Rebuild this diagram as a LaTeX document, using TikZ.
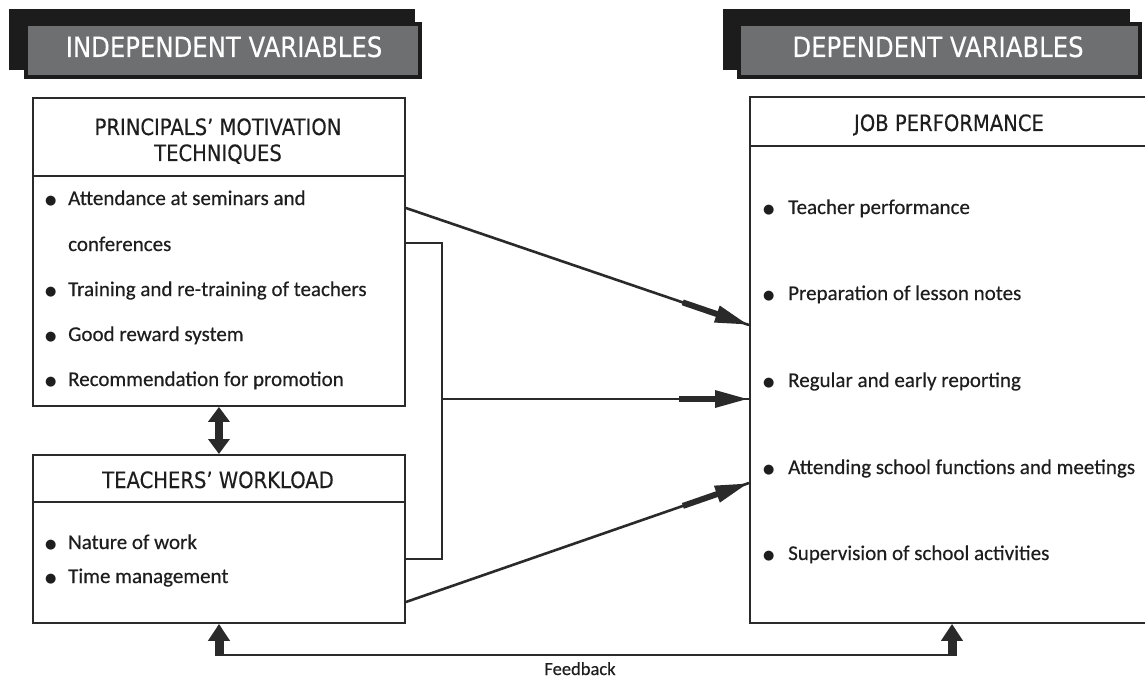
\documentclass[tikz,border=0pt]{standalone}
\usepackage{fontspec}
\setmainfont{Carlito}[FakeBold=0.35]
\newfontfamily\hdr{DejaVu Sans}[FakeStretch=0.87,FakeBold=0.25]
\newfontfamily\bulfont{DejaVu Sans}
\usetikzlibrary{arrows.meta,calc}
\definecolor{lc}{HTML}{2A2A2A}
\definecolor{tc}{HTML}{1E1E1E}
\definecolor{bgray}{HTML}{6E6F71}
\definecolor{bshadow}{HTML}{1C1C1C}
\newcommand\fatarrow[2]{%
  \draw[conn] (#1) -- (#2);
  \draw[fatpart] ($(#2)!70pt!(#1)$) -- (#2);}
\newcommand\bul[1]{\makebox[#1][l]{\hspace{-1pt}\raisebox{1pt}{\bulfont\fontsize{13}{13}\selectfont ●}}}
\begin{document}
\begin{tikzpicture}[x=1pt,y=-1pt,
  box/.style={draw=lc, line width=1.9pt, fill=white, inner sep=0pt, anchor=north west},
  divider/.style={draw=lc, line width=1.5pt},
  hdrtext/.style={font=\hdr\fontsize{22.5}{26}\selectfont, text=tc, anchor=base, inner sep=0pt},
  bantext/.style={font=\hdr\fontsize{28}{32}\selectfont, text=white, anchor=base, inner sep=0pt},
  item/.style={font=\fontsize{21}{24}\selectfont, text=tc, anchor=base west, inner sep=0pt},
  conn/.style={draw=lc, line width=2.6pt},
  fatpart/.style={draw=lc, line width=6pt, -{Triangle[length=34pt,width=16pt]}},
  dblarrow/.style={draw=lc, line width=8pt, {Triangle[length=15pt,width=21pt]}-{Triangle[length=15pt,width=21pt]}},
  uparrow/.style={draw=lc, line width=9pt, -{Triangle[length=17pt,width=21pt]}},
  shadowbox/.style={fill=bshadow, draw=none, inner sep=0pt, anchor=north west},
  banner/.style={fill=bgray, draw=bshadow, line width=4pt, inner sep=0pt, anchor=north west}
]
\useasboundingbox (0,0) rectangle (1145,679);

% banners
\node[shadowbox, minimum width=406pt, minimum height=61pt] (ls) at (9,9) {};
\node[banner, minimum width=394pt, minimum height=53pt] (lb) at (24,22) {};
\node[bantext] (lbt) at (224,57) {INDEPENDENT VARIABLES};
\node[shadowbox, minimum width=407pt, minimum height=61pt] (rs) at (723,9) {};
\node[banner, minimum width=401pt, minimum height=53pt] (rb) at (737,22) {};
\node[bantext] (rbt) at (938,57) {DEPENDENT VARIABLES};

% box 1
\node[box, minimum width=372pt, minimum height=308pt] (pmt) at (32,97) {};
\coordinate (d1) at (0,176);
\draw[divider] (pmt.west |- d1) -- (pmt.east |- d1);
\node[hdrtext] (pmth1) at (218,135) {PRINCIPALS’ MOTIVATION};
\node[hdrtext] (pmth2) at (218,161) {TECHNIQUES};
\node[item] (i11) at (46,205) {\bul{22pt}Attendance at seminars and};
\node[item] (i12) at (68,251) {conferences};
\node[item] (i13) at (46,296) {\bul{22pt}Training and re-training of teachers};
\node[item] (i14) at (46,341) {\bul{22pt}Good reward system};
\node[item] (i15) at (46,386) {\bul{22pt}Recommendation for promotion};

% box 2
\node[box, minimum width=372pt, minimum height=168pt] (wl) at (32,454) {};
\coordinate (d2) at (0,502);
\draw[divider] (wl.west |- d2) -- (wl.east |- d2);
\node[hdrtext] (wlh) at (218,488) {TEACHERS’ WORKLOAD};
\node[item] (i21) at (46,549) {\bul{22pt}Nature of work};
\node[item] (i22) at (46,583) {\bul{22pt}Time management};

% box 3
\node[box, minimum width=420pt, minimum height=526pt] (jp) at (749,96) {};
\coordinate (d3) at (0,146);
\draw[divider] (jp.west |- d3) -- (jp.east |- d3);
\node[hdrtext] (jph) at (949,131) {JOB PERFORMANCE};
\node[item] (i31) at (764,214) {\bul{24pt}Teacher performance};
\node[item] (i32) at (764,300) {\bul{24pt}Preparation of lesson notes};
\node[item] (i33) at (764,387) {\bul{24pt}Regular and early reporting};
\node[item] (i34) at (764,474) {\bul{24pt}Attending school functions and meetings};
\node[item] (i35) at (764,560) {\bul{24pt}Supervision of school activities};

% double arrow between boxes
\draw[dblarrow] (pmt.south) -- (wl.north);

% bracket
\coordinate (y243) at (0,243);
\coordinate (y559) at (0,559);
\coordinate (bx) at (442,0);
\draw[conn] (pmt.east |- y243) -| (bx |- y559) -- (wl.east |- y559);

% arrows
\coordinate (y208) at (0,208);
\coordinate (y325) at (0,325);
\coordinate (y399) at (0,399);
\coordinate (y602) at (0,602);
\coordinate (y483) at (0,483);
\coordinate (A1s) at (pmt.east |- y208);
\coordinate (A1e) at (jp.west |- y325);
\coordinate (A2s) at (bx |- y399);
\coordinate (A2e) at (jp.west |- y399);
\coordinate (A3s) at (wl.east |- y602);
\coordinate (A3e) at (jp.west |- y483);
\fatarrow{A1s}{A1e}
\fatarrow{A2s}{A2e}
\fatarrow{A3s}{A3e}

% feedback
\coordinate (fbL) at (219,655);
\coordinate (fbR) at (952,655);
\draw[draw=lc, line width=2.8pt] ([xshift=-4.5pt]fbL) -- ([xshift=4.5pt]fbR);
\draw[uparrow] ([yshift=1.4pt]fbL) -- (fbL |- wl.south);
\draw[uparrow] ([yshift=1.4pt]fbR) -- (fbR |- jp.south);
\node[font=\fontsize{18.5}{21}\selectfont, text=tc, anchor=base, inner sep=0pt] (fbt) at (580,675) {Feedback};
\end{tikzpicture}
\end{document}
